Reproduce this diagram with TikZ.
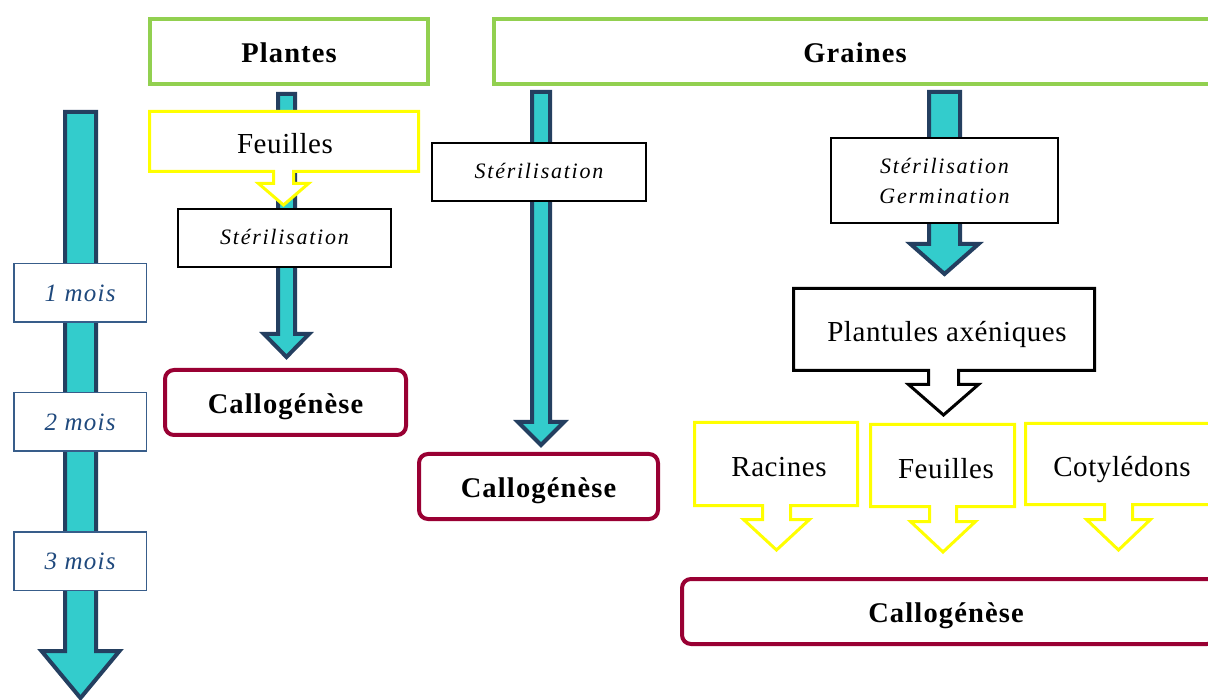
\documentclass[tikz,border=0pt]{standalone}
\usepackage{fontspec}
\setmainfont{Liberation Serif}
\definecolor{cyanA}{HTML}{33CCCC}
\definecolor{navyA}{HTML}{243F60}
\definecolor{greenA}{HTML}{92D050}
\definecolor{yellowA}{HTML}{FFFF00}
\definecolor{redA}{HTML}{990033}
\definecolor{monthA}{HTML}{1F497D}
\definecolor{monthB}{HTML}{385D8A}
\newcommand\BigArrow[6]{%
  \draw[bigarr] ({#1-#4},#2) -- ({#1+#4},#2) -- ({#1+#4},{#3-#6}) -- ({#1+#5},{#3-#6})
    -- (#1,#3) -- ({#1-#5},{#3-#6}) -- ({#1-#4},{#3-#6}) -- cycle;}
\tikzset{
  bigarr/.style={fill=cyanA, draw=navyA, line width=4pt, line join=miter},
  boldtxt/.style={font=\fontsize{28.5}{32}\selectfont\bfseries\addfontfeature{LetterSpace=4}, text height=22pt, text depth=0pt},
  titlebox/.style={draw=greenA, line width=4pt, fill=white, boldtxt},
  monthbox/.style={draw=monthB, line width=1.5pt, fill=white, text=monthA, minimum width=132.5pt, minimum height=58.5pt, font=\fontsize{25}{28}\selectfont\itshape\addfontfeature{LetterSpace=5}},
  sterbox/.style={draw=black, line width=2pt, fill=white, font=\fontsize{22}{30}\selectfont\itshape\addfontfeature{LetterSpace=8}, align=center},
  callbox/.style={draw=redA, line width=4pt, fill=white, rounded corners=9pt, boldtxt},
  ycall/.style={draw=yellowA, line width=3pt, fill=white, line join=miter},
  bcall/.style={draw=black, line width=3pt, fill=white, line join=miter},
  lbl/.style={font=\fontsize{29}{32}\selectfont\addfontfeature{LetterSpace=2}, inner sep=0pt, text height=21pt, text depth=0pt}
}
\begin{document}
\begin{tikzpicture}[x=1pt,y=-1pt]
\useasboundingbox (0,0) rectangle (1208,700);
\clip (0,0) rectangle (1208,700);
\fill[white] (0,0) rectangle (1208,700);

% big cyan arrows
\BigArrow{80.5}{112}{698}{15.5}{39}{47}
\BigArrow{286.5}{94}{357}{8.5}{22.5}{23}
\BigArrow{541}{92}{445}{9}{23}{23}
\BigArrow{944.5}{92}{274}{15.5}{34}{30}

% title boxes
\node[titlebox, minimum width=278pt, minimum height=65pt] (plantes) at (289,51.5) {Plantes};
\node[titlebox, minimum width=722pt, minimum height=65pt] (graines) at (855,51.5) {Graines};

% month boxes
\node[monthbox] (m1) at (80,293) {1 mois};
\node[monthbox] (m2) at (80,422) {2 mois};
\node[monthbox] (m3) at (80,561) {3 mois};

% Feuilles callout (plantes)
\draw[ycall] (149.5,111.5) -- (418.5,111.5) -- (418.5,171.5) -- (293.5,171.5) -- (293.5,183.5)
  -- (308.5,183.5) -- (283.5,205) -- (258.5,183.5) -- (273.5,183.5) -- (273.5,171.5) -- (149.5,171.5) -- cycle;
\node[lbl] (feuillesA) at (285,143) {Feuilles};

% sterilisation boxes
\node[sterbox, minimum width=213pt, minimum height=58pt] (ster1) at (284.5,238) {\raisebox{2pt}{Stérilisation}};
\node[sterbox, minimum width=214pt, minimum height=58pt] (ster2) at (539,172) {\raisebox{2pt}{Stérilisation}};
\node[sterbox, minimum width=227pt, minimum height=85pt] (ster3) at (944.5,180.5) {Stérilisation\\Germination};

% callogenese boxes
\node[callbox, minimum width=241pt, minimum height=65pt] (callo1) at (285.5,402.5) {Callogénèse};
\node[callbox, minimum width=239pt, minimum height=65pt] (callo2) at (538.5,486.5) {Callogénèse};
\node[callbox, minimum width=534pt, minimum height=65pt] (callo3) at (949,611.5) {};
\node[boldtxt] (callo3t) at (946,611.5) {Callogénèse};

% Plantules callout
\draw[bcall] (793.5,288.5) -- (1094.5,288.5) -- (1094.5,370.5) -- (958.5,370.5) -- (958.5,384.5)
  -- (978.5,384.5) -- (943.5,415) -- (908.5,384.5) -- (928.5,384.5) -- (928.5,370.5) -- (793.5,370.5) -- cycle;
\node[lbl] (plantules) at (947,331) {Plantules axéniques};

% Racines callout
\draw[ycall] (694.5,422.5) -- (857.5,422.5) -- (857.5,505.5) -- (790.5,505.5) -- (790.5,519.5)
  -- (809.5,519.5) -- (776.5,550) -- (743.5,519.5) -- (762.5,519.5) -- (762.5,505.5) -- (694.5,505.5) -- cycle;
\node[lbl] (racines) at (779,466) {Racines};

% Feuilles callout (graines)
\draw[ycall] (870.5,424.5) -- (1014.5,424.5) -- (1014.5,506.5) -- (956.5,506.5) -- (956.5,521.5)
  -- (975.5,521.5) -- (943,552) -- (910.5,521.5) -- (929.5,521.5) -- (929.5,506.5) -- (870.5,506.5) -- cycle;
\node[lbl] (feuillesB) at (946,468) {Feuilles};

% Cotyledons callout
\draw[ycall] (1025.5,423.5) -- (1220,423.5) -- (1220,504.5) -- (1132.5,504.5) -- (1132.5,519.5)
  -- (1150.5,519.5) -- (1118.5,550) -- (1086.5,519.5) -- (1104.5,519.5) -- (1104.5,504.5) -- (1025.5,504.5) -- cycle;
\node[lbl] (cotyl) at (1122,466) {Cotylédons};
\end{tikzpicture}
\end{document}
